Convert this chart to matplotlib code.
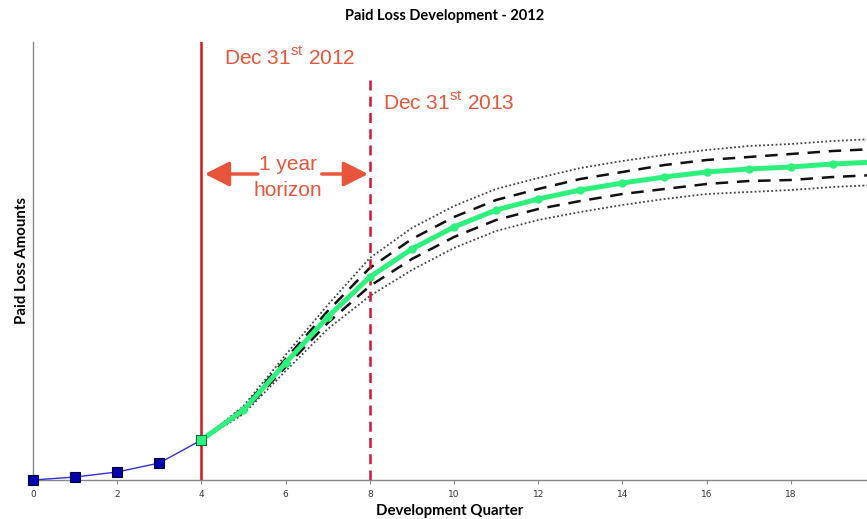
import matplotlib
matplotlib.use("Agg")
import matplotlib.pyplot as plt

plt.rcParams["mathtext.fontset"] = "custom"
plt.rcParams["mathtext.rm"] = "Liberation Sans"

# Observed paid losses (development quarters 0-4)
obs_quarters = [0, 1, 2, 3, 4]
obs_paid = [0, 3, 8, 17, 40]

# Projected paid losses (quarters 4-20) with inner / outer bands
proj_quarters = [4, 5, 6, 7, 8, 9, 10, 11, 12, 13, 14, 15, 16, 17, 18, 19, 20]
proj_mean = [40, 70, 117, 163, 203, 231, 253, 270, 281, 290, 297, 303, 308, 311, 313, 316, 318]
inner_upper = [40, 72, 121, 169, 212, 241, 263, 280, 291, 301, 308, 315, 320, 323, 326, 329, 331]
inner_lower = [40, 68, 113, 157, 194, 221, 243, 260, 271, 279, 286, 291, 296, 299, 300, 303, 305]
outer_upper = [40, 74, 125, 175, 222, 252, 274, 291, 302, 312, 319, 325, 330, 334, 336, 339, 341]
outer_lower = [40, 66, 109, 151, 184, 210, 232, 249, 260, 268, 275, 281, 286, 288, 290, 293, 295]

xticks = [0, 2, 4, 6, 8, 10, 12, 14, 16, 18]
valuation_q = 4
horizon_q = 8

accent = "#e8553a"
fig = plt.figure(figsize=(8.67, 5.19), dpi=100)
ax = fig.add_axes([33 / 867, 39 / 519, 834 / 867, 438 / 519])

# bands
ax.plot(proj_quarters, outer_upper, color="#444444", lw=1.3, ls=(0, (1, 1.3)), zorder=2)
ax.plot(proj_quarters, outer_lower, color="#444444", lw=1.3, ls=(0, (1, 1.3)), zorder=2)
ax.plot(proj_quarters, inner_upper, color="#111111", lw=1.8, ls=(0, (5, 3.5)), zorder=2)
ax.plot(proj_quarters, inner_lower, color="#111111", lw=1.8, ls=(0, (5, 3.5)), zorder=2)

# valuation lines
ax.axvline(valuation_q, color="#d01818", lw=1.8, zorder=3)
ax.plot([horizon_q, horizon_q], [0, 400], color="#d01830", lw=1.8, ls=(0, (4, 2.5)), zorder=3)

# observed
ax.plot(obs_quarters, obs_paid, color="#3030d0", lw=1, marker="s", ms=6.5,
        mfc="#0000b0", mec="#000030", mew=0.8, zorder=4, clip_on=False)
# projected mean
ax.plot(proj_quarters, proj_mean, color="#2ef07c", lw=3.6, marker="o", ms=5,
        mfc="#2ef07c", mec="#2ef07c", zorder=5)
ax.plot([4], [40], marker="s", ms=6.5, mfc="#2ef07c", mec="#0a6a30", mew=0.6, zorder=6)

# annotations
txt_kw = dict(color=accent, fontsize=15, family="Liberation Sans", va="center")
ax.text(4.54, 422, r"Dec 31$^{\mathrm{st}}$ 2012", ha="left", **txt_kw)
ax.text(8.31, 377, r"Dec 31$^{\mathrm{st}}$ 2013", ha="left", **txt_kw)
ax.text(6.06, 315, "1 year", ha="center", **txt_kw)
ax.text(6.06, 290, "horizon", ha="center", **txt_kw)
arrow_kw = dict(arrowstyle="-|>,head_length=0.75,head_width=0.38", color=accent,
                lw=2.5, mutation_scale=20, shrinkA=0, shrinkB=0)
ax.annotate("", xy=(4.08, 306), xytext=(5.34, 306), arrowprops=arrow_kw)
ax.annotate("", xy=(7.96, 306), xytext=(6.86, 306), arrowprops=arrow_kw)

ax.set_xlim(0, 19.81)
ax.set_ylim(0, 438)

# axes styling
for s in ("top", "right"):
    ax.spines[s].set_visible(False)
for s in ("left", "bottom"):
    ax.spines[s].set_color("#888888")
    ax.spines[s].set_linewidth(1)
ax.set_yticks([])
ax.set_xticks(xticks)
ax.tick_params(axis="x", length=3, color="#888888", labelsize=6.5, labelcolor="#333333", pad=4)

ax.set_xlabel("Development Quarter", fontsize=10.8, fontweight="bold", family="Lato", labelpad=4)
ax.set_ylabel("Paid Loss Amounts", fontsize=10.8, fontweight="bold", family="Lato", labelpad=3)
fig.text(445 / 867, 1 - 16 / 519, "Paid Loss Development - 2012", fontsize=10.5,
         fontweight="bold", family="Lato", ha="center", va="center")

fig.savefig("out.png", dpi=100)
